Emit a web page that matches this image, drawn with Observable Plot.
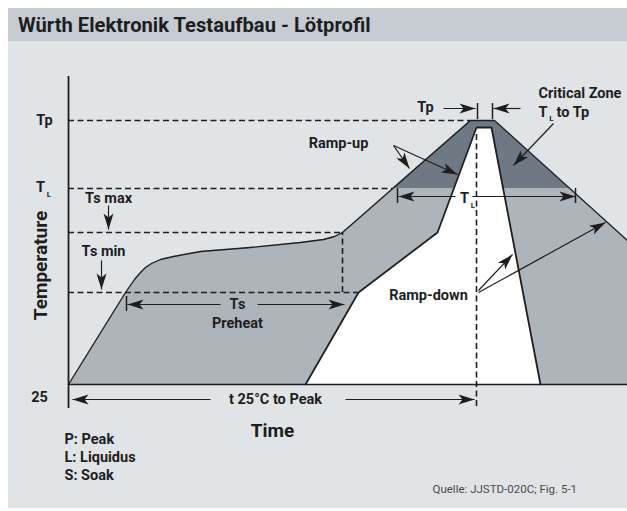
<!DOCTYPE html>
<html><head><meta charset="utf-8">
<script src="https://cdn.jsdelivr.net/npm/d3@7"></script>
<script src="https://cdn.jsdelivr.net/npm/@observablehq/plot@0.6"></script>
<style>
body{margin:0;background:#fff;}
#wrap{position:relative;width:627px;height:511px;overflow:hidden;font-family:Roboto,"Open Sans",sans-serif;color:#1e1e1e;}
#titlebar{position:absolute;left:8px;top:8px;width:619px;height:33px;background:#c6ccd1;}
#title{position:absolute;left:10px;top:0;line-height:34px;font-size:20.2px;font-weight:700;margin:0;white-space:nowrap;}
#panel{position:absolute;left:8px;top:41px;width:619px;height:467px;background:#e1e4e7;}
#chart{position:absolute;left:0;top:41px;}
</style></head>
<body>
<div id="wrap">
  <div id="titlebar"><h1 id="title">Würth Elektronik Testaufbau - Lötprofil</h1></div>
  <div id="panel"></div>
  <div id="chart"></div>
</div>
<script>
// Schematic units: time t (0 = temperature axis), temperature level T (0 = 25 °C line)
const profileTime = [0, 57, 66, 72, 77, 83, 92, 105, 132, 182, 232, 255, 266, 274, 402, 426, 559];
const profileTemp = [0, 92, 105, 112, 117, 121, 125, 128, 133, 137, 142, 145, 148, 152, 264, 264, 144];

const criticalTime = [324, 402, 426, 501];
const criticalTemp = [196, 264, 264, 196];

const rampTime = [237, 290, 369, 408, 423, 472];
const rampTemp = [0, 92, 152, 257, 257, 0];

// dashed reference levels
const levelNames = ["Tp", "TL", "Ts max", "Ts min"];
const levelTemp = [264, 196, 152, 92];
const levelEndTime = [402, 324, 274, 290];

// dashed vertical markers
const markerTime = [274, 408];
const markerFrom = [92, -22];
const markerTo = [152, 252];

// arrows: start -> tip
const arrowX1 = [40, 33, 152, 189, 387, 404, 375, 452, 325, 325, 485, 410, 410, 142, 277];
const arrowY1 = [179, 124, 80, 80, 188, 188, 276, 276, 239, 239, 261, 94, 92, -15, -15];
const arrowX2 = [40, 33, 59, 276, 330, 507, 407, 425, 341, 389, 445, 444, 537, 4, 406];
const arrowY2 = [155, 95, 80, 80, 188, 188, 276, 276, 216, 210, 219, 130, 162, -15, -15];

// small end ticks
const tickTime = [58, 329, 507, 409, 424];
const tickFrom = [73, 181, 181, 265, 265];
const tickTo = [88, 196, 196, 281, 281];

// labels
const labelText = ["Tp", "T", "25", "Ts max", "Ts min", "Ts", "Preheat", "Ramp-up", "Ramp-down", "Tp", "T", "t 25°C to Peak"];
const labelTime = [-24, -28, -29, 40, 35, 169, 169, 270, 360, 357, 396, 207];
const labelTemp = [264, 197, -13, 186, 133, 80, 61, 241, 89, 277, 186, -15];

const subText = ["L", "L", "L"];
const subTime = [-19.5, 404.5, 483];
const subTemp = [190, 179, 266];

const leftText = ["Critical Zone", "T", "to Tp", "P: Peak", "L: Liquidus", "S: Soak"];
const leftTime = [470, 470, 488, -4, -4, -4];
const leftTemp = [291, 272, 272, -55, -73, -91];

const ink = "#1e1e1e";
const profile = profileTime.map((t, i) => ({t, T: profileTemp[i]}));
const critical = criticalTime.map((t, i) => ({t, T: criticalTemp[i]}));
const ramp = rampTime.map((t, i) => ({t, T: rampTemp[i]}));
const levels = levelNames.map((n, i) => ({n, T: levelTemp[i], end: levelEndTime[i]}));
const markers = markerTime.map((t, i) => ({t, a: markerFrom[i], b: markerTo[i]}));
const arrows = arrowX1.map((x1, i) => ({x1, y1: arrowY1[i], x2: arrowX2[i], y2: arrowY2[i]}));
const ticks = tickTime.map((t, i) => ({t, a: tickFrom[i], b: tickTo[i]}));
const labels = labelText.map((s, i) => ({s, t: labelTime[i], T: labelTemp[i]}));
const subs = subText.map((s, i) => ({s, t: subTime[i], T: subTemp[i]}));
const lefts = leftText.map((s, i) => ({s, t: leftTime[i], T: leftTemp[i]}));

const head = {draw(ctx) { ctx.moveTo(0, 0); ctx.lineTo(-5, 16); ctx.lineTo(0, 12); ctx.lineTo(5, 16); ctx.closePath(); }};

const chart = Plot.plot({
  width: 627, height: 470, margin: 0,
  x: {domain: [-68, 559], range: [0, 627], axis: null},
  y: {domain: [-127, 343], range: [470, 0], axis: null},
  style: {background: "transparent", fontFamily: "Roboto, 'Open Sans', sans-serif", overflow: "visible"},
  marks: [
    Plot.areaY(profile, {x: "t", y1: 0, y2: "T", fill: "#adb4ba"}),
    Plot.areaY(critical, {x: "t", y1: 196, y2: "T", fill: "#6e7984"}),
    Plot.areaY(ramp, {x: "t", y1: 0, y2: "T", fill: "#ffffff"}),
    Plot.ruleY(levels, {y: "T", x1: 0, x2: "end", stroke: ink, strokeWidth: 1.6, strokeDasharray: "6,3.5"}),
    Plot.ruleX(markers, {x: "t", y1: "a", y2: "b", stroke: ink, strokeWidth: 1.6, strokeDasharray: "6,3.5"}),
    Plot.line(profile, {x: "t", y: "T", stroke: ink, strokeWidth: 1.3}),
    Plot.line(ramp, {x: "t", y: "T", stroke: ink, strokeWidth: 1.8}),
    Plot.ruleY([0], {x1: 0, x2: 559, stroke: ink, strokeWidth: 1.6}),
    Plot.ruleX([0], {y1: -24, y2: 308, stroke: ink, strokeWidth: 1.8}),
    Plot.ruleX(ticks, {x: "t", y1: "a", y2: "b", stroke: ink, strokeWidth: 1.5}),
    Plot.link(arrows, {x1: "x1", y1: "y1", x2: "x2", y2: "y2", stroke: ink, strokeWidth: 1.2}),
    Plot.dot(arrows, {x: "x2", y: "y2", symbol: head, r: 5, fill: ink, stroke: "none",
      rotate: d => Math.atan2(d.x2 - d.x1, d.y2 - d.y1) * 180 / Math.PI}),
    Plot.text(labels, {x: "t", y: "T", text: "s", fontSize: 14.5, fontWeight: 700, fill: ink}),
    Plot.text(subs, {x: "t", y: "T", text: "s", fontSize: 8, fontWeight: 700, fill: ink}),
    Plot.text(lefts, {x: "t", y: "T", text: "s", fontSize: 14.5, fontWeight: 700, fill: ink, textAnchor: "start"}),
    Plot.text(["Time"], {x: 204, y: -46, text: d => d, fontSize: 19, fontWeight: 700, fill: ink}),
    Plot.text(["Temperature"], {x: -28, y: 119, text: d => d, fontSize: 19, fontWeight: 700, fill: ink, rotate: -90}),
    Plot.text(["Quelle: JJSTD-020C; Fig. 5-1"], {x: 364, y: -105, text: d => d, fontSize: 11.5, fill: "#4a4a4a", textAnchor: "start"})
  ]
});
document.getElementById("chart").append(chart);
</script>
</body></html>
